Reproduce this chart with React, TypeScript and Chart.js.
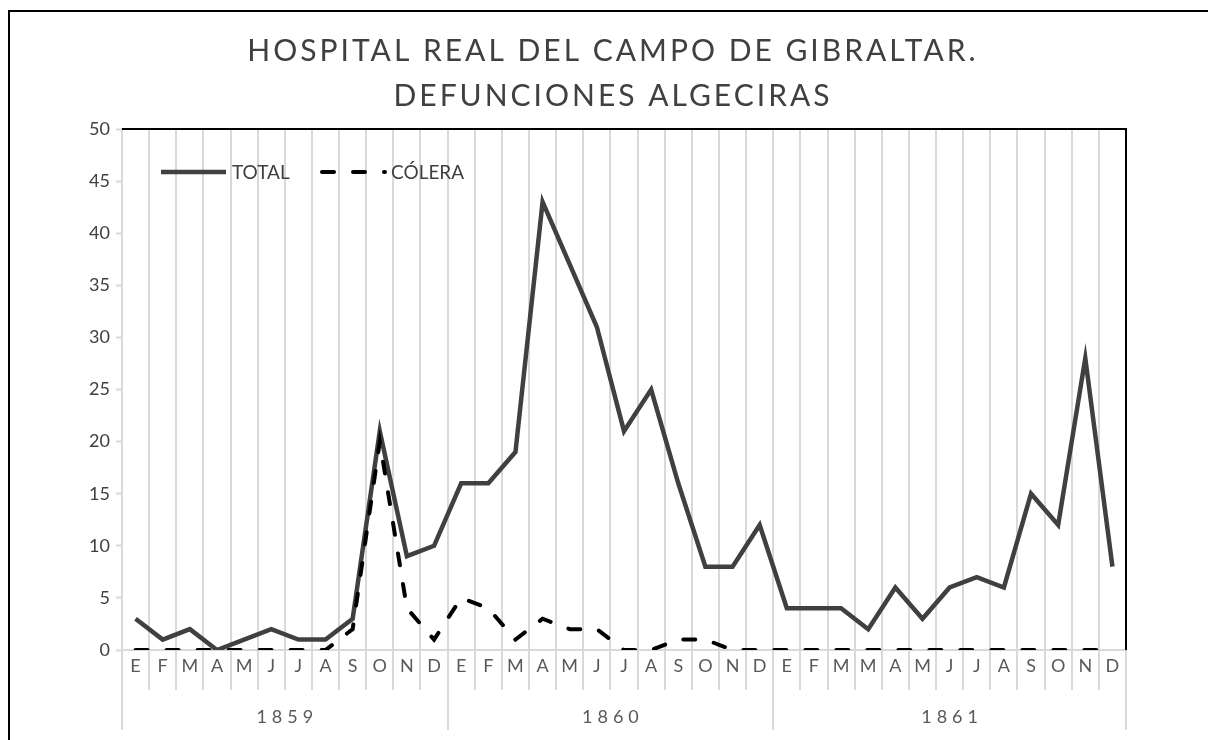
import { useEffect, useRef } from 'react';
import { Chart, registerables } from 'chart.js';

Chart.register(...registerables);

const TITLE_LINES = ['HOSPITAL REAL DEL CAMPO DE GIBRALTAR.', 'DEFUNCIONES ALGECIRAS'];
const MONTHS = [
  'E', 'F', 'M', 'A', 'M', 'J', 'J', 'A', 'S', 'O', 'N', 'D',
  'E', 'F', 'M', 'A', 'M', 'J', 'J', 'A', 'S', 'O', 'N', 'D',
  'E', 'F', 'M', 'M', 'A', 'M', 'J', 'J', 'A', 'S', 'O', 'N', 'D',
];
const YEARS = ['1859', '1860', '1861'];
const YEAR_MONTH_COUNTS = [12, 12, 13];
const TOTAL = [
  3, 1, 2, 0, 1, 2, 1, 1, 3, 21, 9, 10,
  16, 16, 19, 43, 37, 31, 21, 25, 16, 8, 8, 12,
  4, 4, 4, 2, 6, 3, 6, 7, 6, 15, 12, 28, 8,
];
const COLERA = [
  0, 0, 0, 0, 0, 0, 0, 0, 2, 20, 4, 1,
  5, 4, 1, 3, 2, 2, 0, 0, 1, 1, 0, 0,
  0, 0, 0, 0, 0, 0, 0, 0, 0, 0, 0, 0, 0,
];
const SERIES_NAMES = ['TOTAL', 'CÓLERA'];
const Y_MIN = 0;
const Y_MAX = 50;
const Y_STEP = 5;

const FONT = 'Lato, "Open Sans", sans-serif';
const TEXT_COLOR = '#404040';
const LABEL_COLOR = '#595959';
const GRID_COLOR = '#d9d9d9';

const framePlugin = {
  id: 'frame',
  beforeDraw(chart: any) {
    const { ctx } = chart;
    ctx.save();
    ctx.fillStyle = '#ffffff';
    ctx.fillRect(0, 0, chart.width, chart.height);
    ctx.strokeStyle = '#000000';
    ctx.lineWidth = 2;
    ctx.beginPath();
    ctx.moveTo(9, chart.height + 10);
    ctx.lineTo(9, 11);
    ctx.lineTo(chart.width + 10, 11);
    ctx.stroke();
    ctx.restore();
  },
};

const titlePlugin = {
  id: 'spacedTitle',
  afterDraw(chart: any) {
    const { ctx } = chart;
    ctx.save();
    ctx.font = `30px ${FONT}`;
    ctx.fillStyle = TEXT_COLOR;
    ctx.textAlign = 'center';
    ctx.textBaseline = 'middle';
    (ctx as any).letterSpacing = '3px';
    TITLE_LINES.forEach((line, i) => {
      ctx.fillText(line, 613, 51 + i * 45);
    });
    (ctx as any).letterSpacing = '0px';
    ctx.restore();
  },
};

const plotBorderPlugin = {
  id: 'plotBorder',
  beforeDatasetsDraw(chart: any) {
    const { ctx, chartArea } = chart;
    ctx.save();
    ctx.strokeStyle = '#000000';
    ctx.lineWidth = 2;
    ctx.beginPath();
    ctx.moveTo(chartArea.left, chartArea.top);
    ctx.lineTo(chartArea.right, chartArea.top);
    ctx.lineTo(chartArea.right, chartArea.bottom);
    ctx.stroke();
    ctx.restore();
  },
};

const yearAxisPlugin = {
  id: 'yearAxis',
  afterDraw(chart: any) {
    const { ctx, chartArea } = chart;
    const xs = chart.scales.x;
    ctx.save();
    ctx.strokeStyle = GRID_COLOR;
    ctx.lineWidth = 2;
    ctx.fillStyle = LABEL_COLOR;
    ctx.font = `18px ${FONT}`;
    ctx.textAlign = 'center';
    ctx.textBaseline = 'middle';
    (ctx as any).letterSpacing = '5px';
    let start = 0;
    YEARS.forEach((year, i) => {
      const end = start + YEAR_MONTH_COUNTS[i];
      const x0 = xs.getPixelForValue(start - 0.5);
      const x1 = xs.getPixelForValue(end - 0.5);
      [x0, x1].forEach((x) => {
        const px = Math.round(x);
        ctx.beginPath();
        ctx.moveTo(px, chartArea.bottom);
        ctx.lineTo(px, chartArea.bottom + 80);
        ctx.stroke();
      });
      ctx.fillText(year, (x0 + x1) / 2 + 2.5, chartArea.bottom + 67);
      start = end;
    });
    (ctx as any).letterSpacing = '0px';
    ctx.restore();
  },
};

const legendPlugin = {
  id: 'insideLegend',
  afterDatasetsDraw(chart: any) {
    const { ctx, chartArea } = chart;
    const y = chartArea.top + 43;
    const starts = [chartArea.left + 39, chartArea.left + 200];
    const lens = [65, 63];
    ctx.save();
    ctx.font = `19px ${FONT}`;
    ctx.textBaseline = 'middle';
    ctx.textAlign = 'left';
    chart.data.datasets.forEach((ds: any, i: number) => {
      const x = starts[i];
      ctx.strokeStyle = ds.borderColor;
      ctx.lineWidth = ds.borderWidth;
      ctx.lineCap = ds.borderCapStyle || 'butt';
      ctx.setLineDash(ds.borderDash || []);
      ctx.beginPath();
      ctx.moveTo(x, y);
      ctx.lineTo(x + lens[i], y);
      ctx.stroke();
      ctx.setLineDash([]);
      ctx.fillStyle = TEXT_COLOR;
      ctx.fillText(ds.label, x + lens[i] + 6, y + 1);
    });
    ctx.restore();
  },
};

export default function App() {
  const ref = useRef<HTMLCanvasElement | null>(null);

  useEffect(() => {
    if (!ref.current) return;
    const chart = new Chart(ref.current, {
      type: 'line',
      data: {
        labels: MONTHS,
        datasets: [
          {
            label: SERIES_NAMES[0],
            data: TOTAL,
            borderColor: '#404040',
            borderWidth: 4.5,
            pointRadius: 0,
            tension: 0,
            fill: false,
            order: 1,
          },
          {
            label: SERIES_NAMES[1],
            data: COLERA,
            borderColor: '#000000',
            borderWidth: 4,
            borderDash: [12, 19],
            borderCapStyle: 'round',
            pointRadius: 0,
            tension: 0,
            fill: false,
            order: 0,
          },
        ],
      },
      options: {
        responsive: false,
        animation: false,
        devicePixelRatio: 1,
        layout: { padding: { left: 0, top: 129, right: 82, bottom: 0 } },
        plugins: {
          legend: { display: false },
          title: { display: false },
          tooltip: { enabled: false },
        },
        scales: {
          x: {
            type: 'category',
            offset: true,
            grid: {
              offset: true,
              color: GRID_COLOR,
              lineWidth: 2,
              drawTicks: true,
              tickLength: 40,
              tickColor: GRID_COLOR,
              tickWidth: 2,
            },
            border: { display: true, color: GRID_COLOR, width: 2 },
            ticks: {
              color: LABEL_COLOR,
              font: { family: FONT, size: 18 },
              padding: -35,
              maxRotation: 0,
              autoSkip: false,
            },
            afterFit: (s: any) => {
              s.height = 90;
            },
          },
          y: {
            min: Y_MIN,
            max: Y_MAX,
            grid: {
              drawOnChartArea: false,
              drawTicks: true,
              tickLength: 6,
              tickColor: GRID_COLOR,
              tickWidth: 2,
            },
            border: { display: true, color: GRID_COLOR, width: 2 },
            ticks: {
              stepSize: Y_STEP,
              color: TEXT_COLOR,
              font: { family: FONT, size: 18 },
              padding: 6,
            },
            afterFit: (s: any) => {
              s.width = 122;
            },
          },
        },
      },
      plugins: [framePlugin, plotBorderPlugin, legendPlugin, yearAxisPlugin, titlePlugin],
    });
    return () => chart.destroy();
  }, []);

  return (
    <div style={{ position: 'fixed', left: 0, top: 0, width: 1208, height: 740, overflow: 'hidden' }}>
      <canvas ref={ref} width={1208} height={740} style={{ display: 'block' }} />
    </div>
  );
}
